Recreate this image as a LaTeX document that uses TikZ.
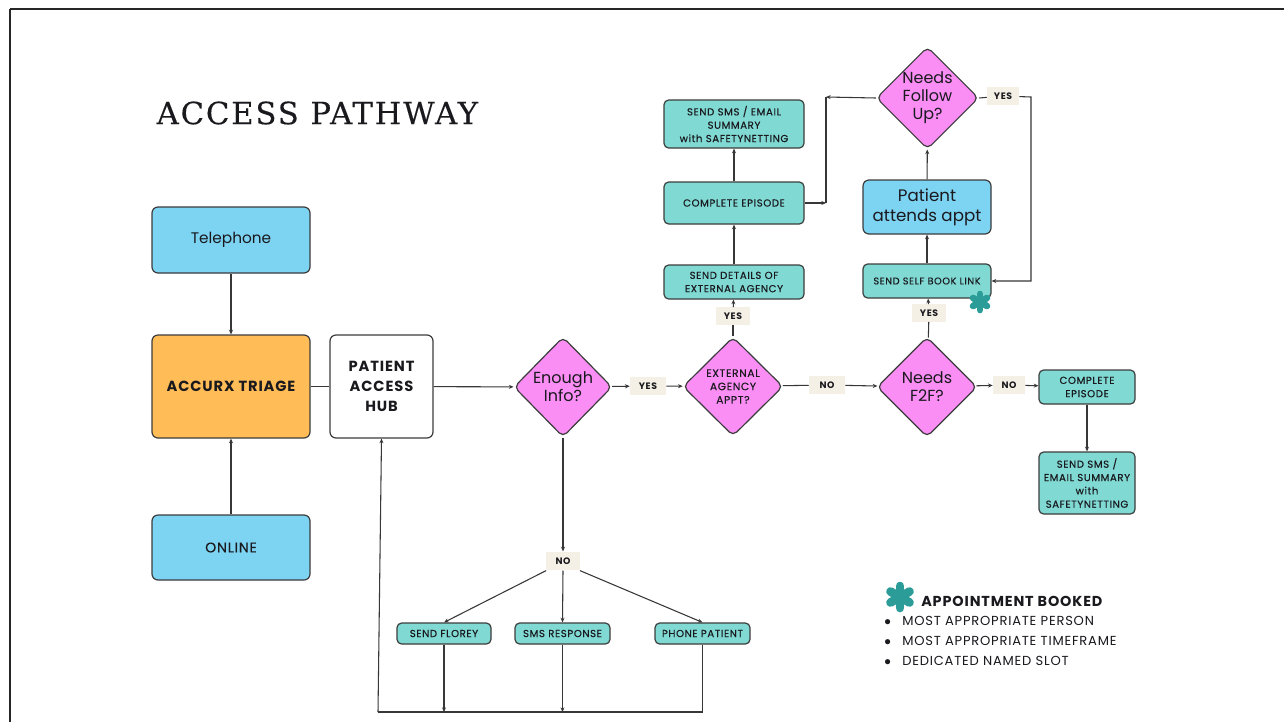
\documentclass[tikz,border=0pt]{standalone}
\usepackage{fontspec}
\setmainfont{Poppins}
\newfontfamily\capsf[LetterSpace=6,FakeBold=0.3]{Poppins}
\newfontfamily\capsb[LetterSpace=6]{Poppins}
\newfontfamily\titlefont[LetterSpace=6,FakeBold=0.2]{DejaVu Serif}
\usetikzlibrary{shapes.geometric,arrows.meta}
\definecolor{sky}{RGB}{125,211,242}
\definecolor{orng}{RGB}{255,188,87}
\definecolor{pinkd}{RGB}{250,142,245}
\definecolor{tealc}{RGB}{128,218,211}
\definecolor{beige}{RGB}{245,240,230}
\definecolor{astc}{RGB}{43,156,151}
\definecolor{edge}{RGB}{60,60,60}
\definecolor{linec}{RGB}{55,55,55}
\definecolor{txt}{RGB}{25,25,30}
\begin{document}
\begin{tikzpicture}[x=0.75pt,y=-0.75pt,
  base/.style={draw=edge, line width=0.9pt, rounded corners=4.5pt, align=center, inner sep=1pt, text=txt},
  bluebox/.style={base, fill=sky, font=\fontsize{11.5}{14}\selectfont},
  tealbox/.style={base, fill=tealc, rounded corners=3.5pt, font=\capsf\fontsize{7.6}{10}\selectfont},
  dia/.style={diamond, aspect=1, draw=edge, fill=pinkd, line width=0.9pt, rounded corners=4pt, align=center, inner sep=0pt, text=txt},
  lab/.style={fill=beige, text=txt, font=\capsb\bfseries\fontsize{7}{8}\selectfont, inner sep=0pt, minimum width=27pt, minimum height=14pt},
  conn/.style={draw=linec, line width=0.8pt},
  arr/.style={conn, -{Stealth[length=3.5pt,width=3pt]}}
]
\useasboundingbox (0,0) rectangle (1284,722);
\fill[white] (0,0) rectangle (1284,722);
% frame
\draw[line width=2.2pt, black!85] (10,9) -- (1284,9);
\draw[line width=2.2pt, black!85] (10,9) -- (10,722);

% title
\node[anchor=west, text=txt, font=\titlefont\fontsize{23}{26}\selectfont] (title) at (152,113) {ACCESS PATHWAY};

% left column
\node[bluebox, minimum width=118.5pt, minimum height=49.5pt] (tel) at (231,240) {Telephone};
\node[base, fill=orng, minimum width=118.5pt, minimum height=77.25pt, font=\capsb\bfseries\fontsize{11}{14}\selectfont] (acc) at (231,386.5) {ACCURX TRIAGE};
\node[bluebox, minimum width=118.5pt, minimum height=48.75pt, font=\capsf\fontsize{10.5}{14}\selectfont] (onl) at (231,547.5) {ONLINE};
\node[base, fill=white, minimum width=77.25pt, minimum height=77.25pt, font=\capsb\bfseries\fontsize{11}{15}\selectfont] (pah) at (381.5,386.5) {PATIENT\\ACCESS\\HUB};

% decisions on main row
\node[dia, minimum width=73.5pt, minimum height=75pt, font=\fontsize{12}{13.5}\selectfont] (ei) at (563,387) {Enough\\Info?};
\node[lab] (yes1) at (648,386) {YES};
\node[dia, minimum width=75pt, minimum height=74.25pt, font=\capsf\fontsize{8}{10}\selectfont] (ext) at (733,386.5) {EXTERNAL\\AGENCY\\APPT?};
\node[lab] (no1) at (827,385) {NO};
\node[dia, minimum width=75pt, minimum height=75pt, font=\fontsize{12}{13.5}\selectfont] (f2f) at (927,387) {Needs\\F2F?};
\node[lab, minimum width=24pt] (no2) at (1009,385) {NO};
\node[tealbox, minimum width=72pt, minimum height=25.5pt] (ce2) at (1087,387) {COMPLETE\\EPISODE};
\node[tealbox, minimum width=72pt, minimum height=46.5pt] (sms2) at (1087,483) {SEND SMS /\\EMAIL SUMMARY\\with\\SAFETYNETTING};

% external agency branch
\node[lab, minimum width=25pt, minimum height=13pt] (yes2) at (733,316) {YES};
\node[tealbox, minimum width=105pt, minimum height=25.5pt] (sd) at (734,282) {SEND DETAILS OF\\EXTERNAL AGENCY};
\node[tealbox, minimum width=105pt, minimum height=31.5pt] (ce1) at (734,203) {COMPLETE EPISODE};
\node[tealbox, minimum width=105pt, minimum height=36pt] (sms1) at (734,124) {SEND SMS / EMAIL\\SUMMARY\\with SAFETYNETTING};

% F2F branch
\node[lab, minimum width=25pt, minimum height=13pt] (yes3) at (929,313) {YES};
\node[tealbox, minimum width=96pt, minimum height=25.5pt, font=\capsf\fontsize{7.3}{9}\selectfont] (sbl) at (927,281) {SEND SELF BOOK LINK};
\node[bluebox, minimum width=96pt, minimum height=40.5pt, font=\fontsize{12.5}{15}\selectfont] (pat) at (927,207) {Patient\\attends appt};
\node[dia, minimum width=74.25pt, minimum height=75pt, font=\fontsize{12}{13.5}\selectfont] (fu) at (927.5,98) {Needs\\Follow\\Up?};
\node[lab, minimum width=24pt, minimum height=13pt] (yes4) at (1003,96) {YES};

% not enough info branch
\node[lab, minimum width=25pt] (no3) at (563,561) {NO};
\node[tealbox, minimum width=70.5pt, minimum height=15.75pt] (flo) at (444,633.5) {SEND FLOREY};
\node[tealbox, minimum width=71.25pt, minimum height=15.75pt] (smsr) at (562.5,633.5) {SMS RESPONSE};
\node[tealbox, minimum width=71.25pt, minimum height=15.75pt] (ph) at (702.5,633.5) {PHONE PATIENT};

% junction coordinates
\coordinate (j1) at (826,97);
\coordinate (j2) at (826,203);
\coordinate (j3) at (1031,97);
\coordinate (j4) at (1031,281);
\coordinate (bl) at (378,712);

% connectors
\draw[arr] (tel) -- (acc);
\draw[arr] (onl) -- (acc);
\draw[conn] (acc) -- (pah);
\draw[arr] (pah) -- (ei);
\draw[arr] (ei) -- (yes1);
\draw[arr] (yes1) -- (ext);
\draw[conn] (ext) -- (no1);
\draw[arr] (no1) -- (f2f);
\draw[arr] (f2f) -- (no2);
\draw[arr] (no2) -- (ce2);
\draw[arr] (ce2) -- (sms2);

\draw[conn] (ext) -- (yes2);
\draw[arr] (yes2) -- (sd);
\draw[arr] (sd) -- (ce1);
\draw[arr] (ce1) -- (sms1);
\draw[arr] (ce1.east) -- (j2);
\draw[arr] (fu.west) -- (j1);
\draw[conn] (j1) -- (j2);

\draw[conn] (f2f) -- (yes3);
\draw[arr] (yes3) -- (sbl);
\draw[arr] (sbl) -- (pat);
\draw[arr] (pat) -- (fu);
\draw[conn] (fu.east) -- (yes4);
\draw[arr] (yes4) -- (j3) -- (j4) -- (sbl.east);

\draw[arr] (ei.south) -- (no3);
\draw[arr] (no3.south west) -- (flo.north);
\draw[arr] (no3.south) -- (smsr.north);
\draw[arr] (no3.south east) -- (ph.north);
\draw[arr] (flo.south) -- (flo.south |- bl);
\draw[arr] (smsr.south) -- (smsr.south |- bl);
\draw[conn] (ph.south) -- (ph.south |- bl) -- (bl);
\draw[arr] (bl) -- (pah.south);

% asterisks
\begin{scope}[shift={(980,302)}]
  \foreach \a in {90,30,150} \draw[astc, line width=5pt, line cap=round] (\a:8) -- (\a+180:8);
\end{scope}
\begin{scope}[shift={(900,597)}]
  \foreach \a in {90,30,150} \draw[astc, line width=6.5pt, line cap=round] (\a:11) -- (\a+180:11);
\end{scope}

% legend
\node[anchor=west, text=txt, font=\capsb\bfseries\fontsize{10.8}{12}\selectfont, inner sep=0pt] (leg) at (921,601) {APPOINTMENT BOOKED};
\node[anchor=north west, text=txt, font=\capsb\fontsize{9.8}{15}\selectfont, inner sep=0pt, align=left] (legl) at (884,616)
  {$\bullet$\hspace{8.5pt}MOST APPROPRIATE PERSON\\$\bullet$\hspace{8.5pt}MOST APPROPRIATE TIMEFRAME\\$\bullet$\hspace{8.5pt}DEDICATED NAMED SLOT};
\end{tikzpicture}
\end{document}
